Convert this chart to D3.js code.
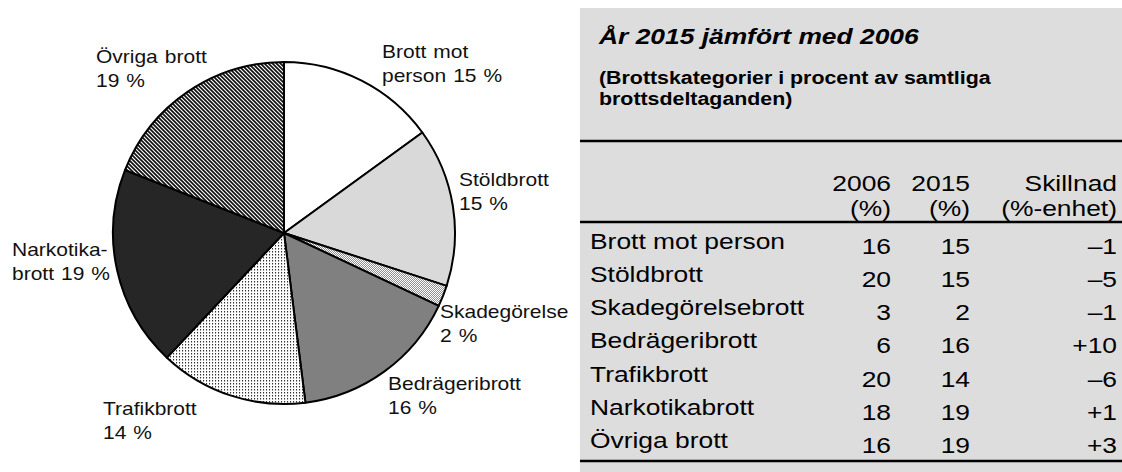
<!DOCTYPE html>
<html>
<head>
<meta charset="utf-8">
<script src="https://cdn.jsdelivr.net/npm/d3@7"></script>
<style>
  body { margin: 0; background: #fff; }
  svg { display: block; font-family: "Liberation Sans", Arial, sans-serif; }
</style>
</head>
<body>
<div id="chart"></div>
<script>
// Pie data (2015)
var categories = ["Brott mot person", "Stöldbrott", "Skadegörelse", "Bedrägeribrott", "Trafikbrott", "Narkotikabrott", "Övriga brott"];
var share2015 = [15, 15, 2, 16, 14, 19, 19];
var pieLabels = [
    ["Brott mot", "person 15 %"],
    ["Stöldbrott", "15 %"],
    ["Skadegörelse", "2 %"],
    ["Bedrägeribrott", "16 %"],
    ["Trafikbrott", "14 %"],
    ["Narkotika-", "brott 19 %"],
    ["Övriga brott", "19 %"]
];

// Table data
var tableTitle = "År 2015 jämfört med 2006";
var tableSubtitle = ["(Brottskategorier i procent av samtliga", "brottsdeltaganden)"];
var headerTop = ["2006", "2015", "Skillnad"];
var headerBottom = ["(%)", "(%)", "(%-enhet)"];
var rowNames = ["Brott mot person", "Stöldbrott", "Skadegörelsebrott", "Bedrägeribrott", "Trafikbrott", "Narkotikabrott", "Övriga brott"];
var values2006 = [16, 20, 3, 6, 20, 18, 16];
var values2015 = [15, 15, 2, 16, 14, 19, 19];
var diffs = ["\u20131", "\u20135", "\u20131", "+10", "\u20136", "+1", "+3"];

var svgWidth = 1122;
var svgHeight = 472;
// the source picture is stretched sideways, so text is widened too
var SX = 1.2;

var svg = d3.select("#chart")
    .append("svg")
    .attr("width", svgWidth)
    .attr("height", svgHeight);

// places a text widened by SX, x is the real page position
function wideText(sel, x, y) {
    return sel.append("text")
        .attr("transform", `scale(${SX},1)`)
        .attr("x", x / SX)
        .attr("y", y);
}

// fill patterns
var defs = svg.append("defs");

var hatch = defs.append("pattern")
    .attr("id", "hatch")
    .attr("patternUnits", "userSpaceOnUse")
    .attr("width", 4)
    .attr("height", 4);
hatch.append("rect").attr("width", 4).attr("height", 4).attr("fill", "#111");
hatch.append("path")
    .attr("d", "M-1,-1 L5,5 M-1,3 L1,5 M3,-1 L5,1")
    .attr("stroke", "#fff")
    .attr("stroke-width", 1.1);

var fine = defs.append("pattern")
    .attr("id", "fine")
    .attr("patternUnits", "userSpaceOnUse")
    .attr("width", 2)
    .attr("height", 2);
fine.append("rect").attr("width", 2).attr("height", 2).attr("fill", "#fff");
fine.append("rect").attr("width", 1).attr("height", 1).attr("fill", "#909090");
fine.append("rect").attr("x", 1).attr("y", 1).attr("width", 1).attr("height", 1).attr("fill", "#909090");

var dots = defs.append("pattern")
    .attr("id", "dots")
    .attr("patternUnits", "userSpaceOnUse")
    .attr("width", 3)
    .attr("height", 3);
dots.append("rect").attr("width", 3).attr("height", 3).attr("fill", "#fff");
dots.append("rect").attr("width", 1.1).attr("height", 1.5).attr("fill", "#333");

var sliceFill = ["#ffffff", "#d9d9d9", "url(#fine)", "#808080", "url(#dots)", "#262626", "url(#hatch)"];

// Pie
var cx = 284, cy = 233, radius = 171;

var pie = d3.pie().sort(null).value(d => d);
var arc = d3.arc().innerRadius(0).outerRadius(radius);

var pieGroup = svg.append("g")
    .attr("transform", `translate(${cx}, ${cy})`);

pieGroup.selectAll("path")
    .data(pie(share2015))
    .enter()
    .append("path")
    .attr("d", arc)
    .attr("fill", (d, i) => sliceFill[i])
    .attr("stroke", "#000")
    .attr("stroke-width", 2)
    .attr("stroke-linejoin", "round");

// label anchors (left x, first baseline)
var labelPos = [[382, 58], [459, 186], [440, 318], [388, 390], [103, 415], [12, 256], [96, 63]];

var labels = svg.append("g")
    .style("font-size", "17.5px")
    .style("word-spacing", "1px")
    .attr("fill", "#111");

pieLabels.forEach(function(lines, i) {
    lines.forEach(function(line, j) {
        wideText(labels, labelPos[i][0], labelPos[i][1] + j * 24).text(line);
    });
});

// Table panel
var panel = svg.append("g");
var px = 580, py = 8, pw = svgWidth - 580, ph = svgHeight - 8;

panel.append("rect")
    .attr("x", px).attr("y", py)
    .attr("width", pw).attr("height", ph)
    .attr("fill", "#dddddd");

wideText(panel, 599, 44)
    .style("font-size", "22px")
    .style("font-weight", "bold")
    .style("font-style", "italic")
    .text(tableTitle);

tableSubtitle.forEach(function(line, i) {
    wideText(panel, 599, 84 + i * 21)
        .style("font-size", "17.8px")
        .style("font-weight", "bold")
        .text(line);
});

// column right edges
var colX = [891, 970, 1117];
var ruleY = [141, 222, 461];

panel.selectAll(".rule")
    .data(ruleY)
    .enter()
    .append("line")
    .attr("x1", px).attr("x2", svgWidth)
    .attr("y1", d => d).attr("y2", d => d)
    .attr("stroke", "#000")
    .attr("stroke-width", 2.5);

var head = panel.append("g").style("font-size", "22px").attr("text-anchor", "end");
headerTop.forEach(function(h, i) {
    wideText(head, colX[i], 191).text(h);
});
headerBottom.forEach(function(h, i) {
    wideText(head, colX[i], 216).text(h);
});

// rows
var yRow = d3.scalePoint()
    .domain(rowNames)
    .range([254, 453]);

var rows = panel.append("g").style("font-size", "22px");

rowNames.forEach(function(name, i) {
    var y = yRow(name);
    wideText(rows, 590, y - 5).text(name);
    wideText(rows, colX[0], y).attr("text-anchor", "end").text(values2006[i]);
    wideText(rows, colX[1], y).attr("text-anchor", "end").text(values2015[i]);
    wideText(rows, colX[2], y).attr("text-anchor", "end").text(diffs[i]);
});
</script>
</body>
</html>
